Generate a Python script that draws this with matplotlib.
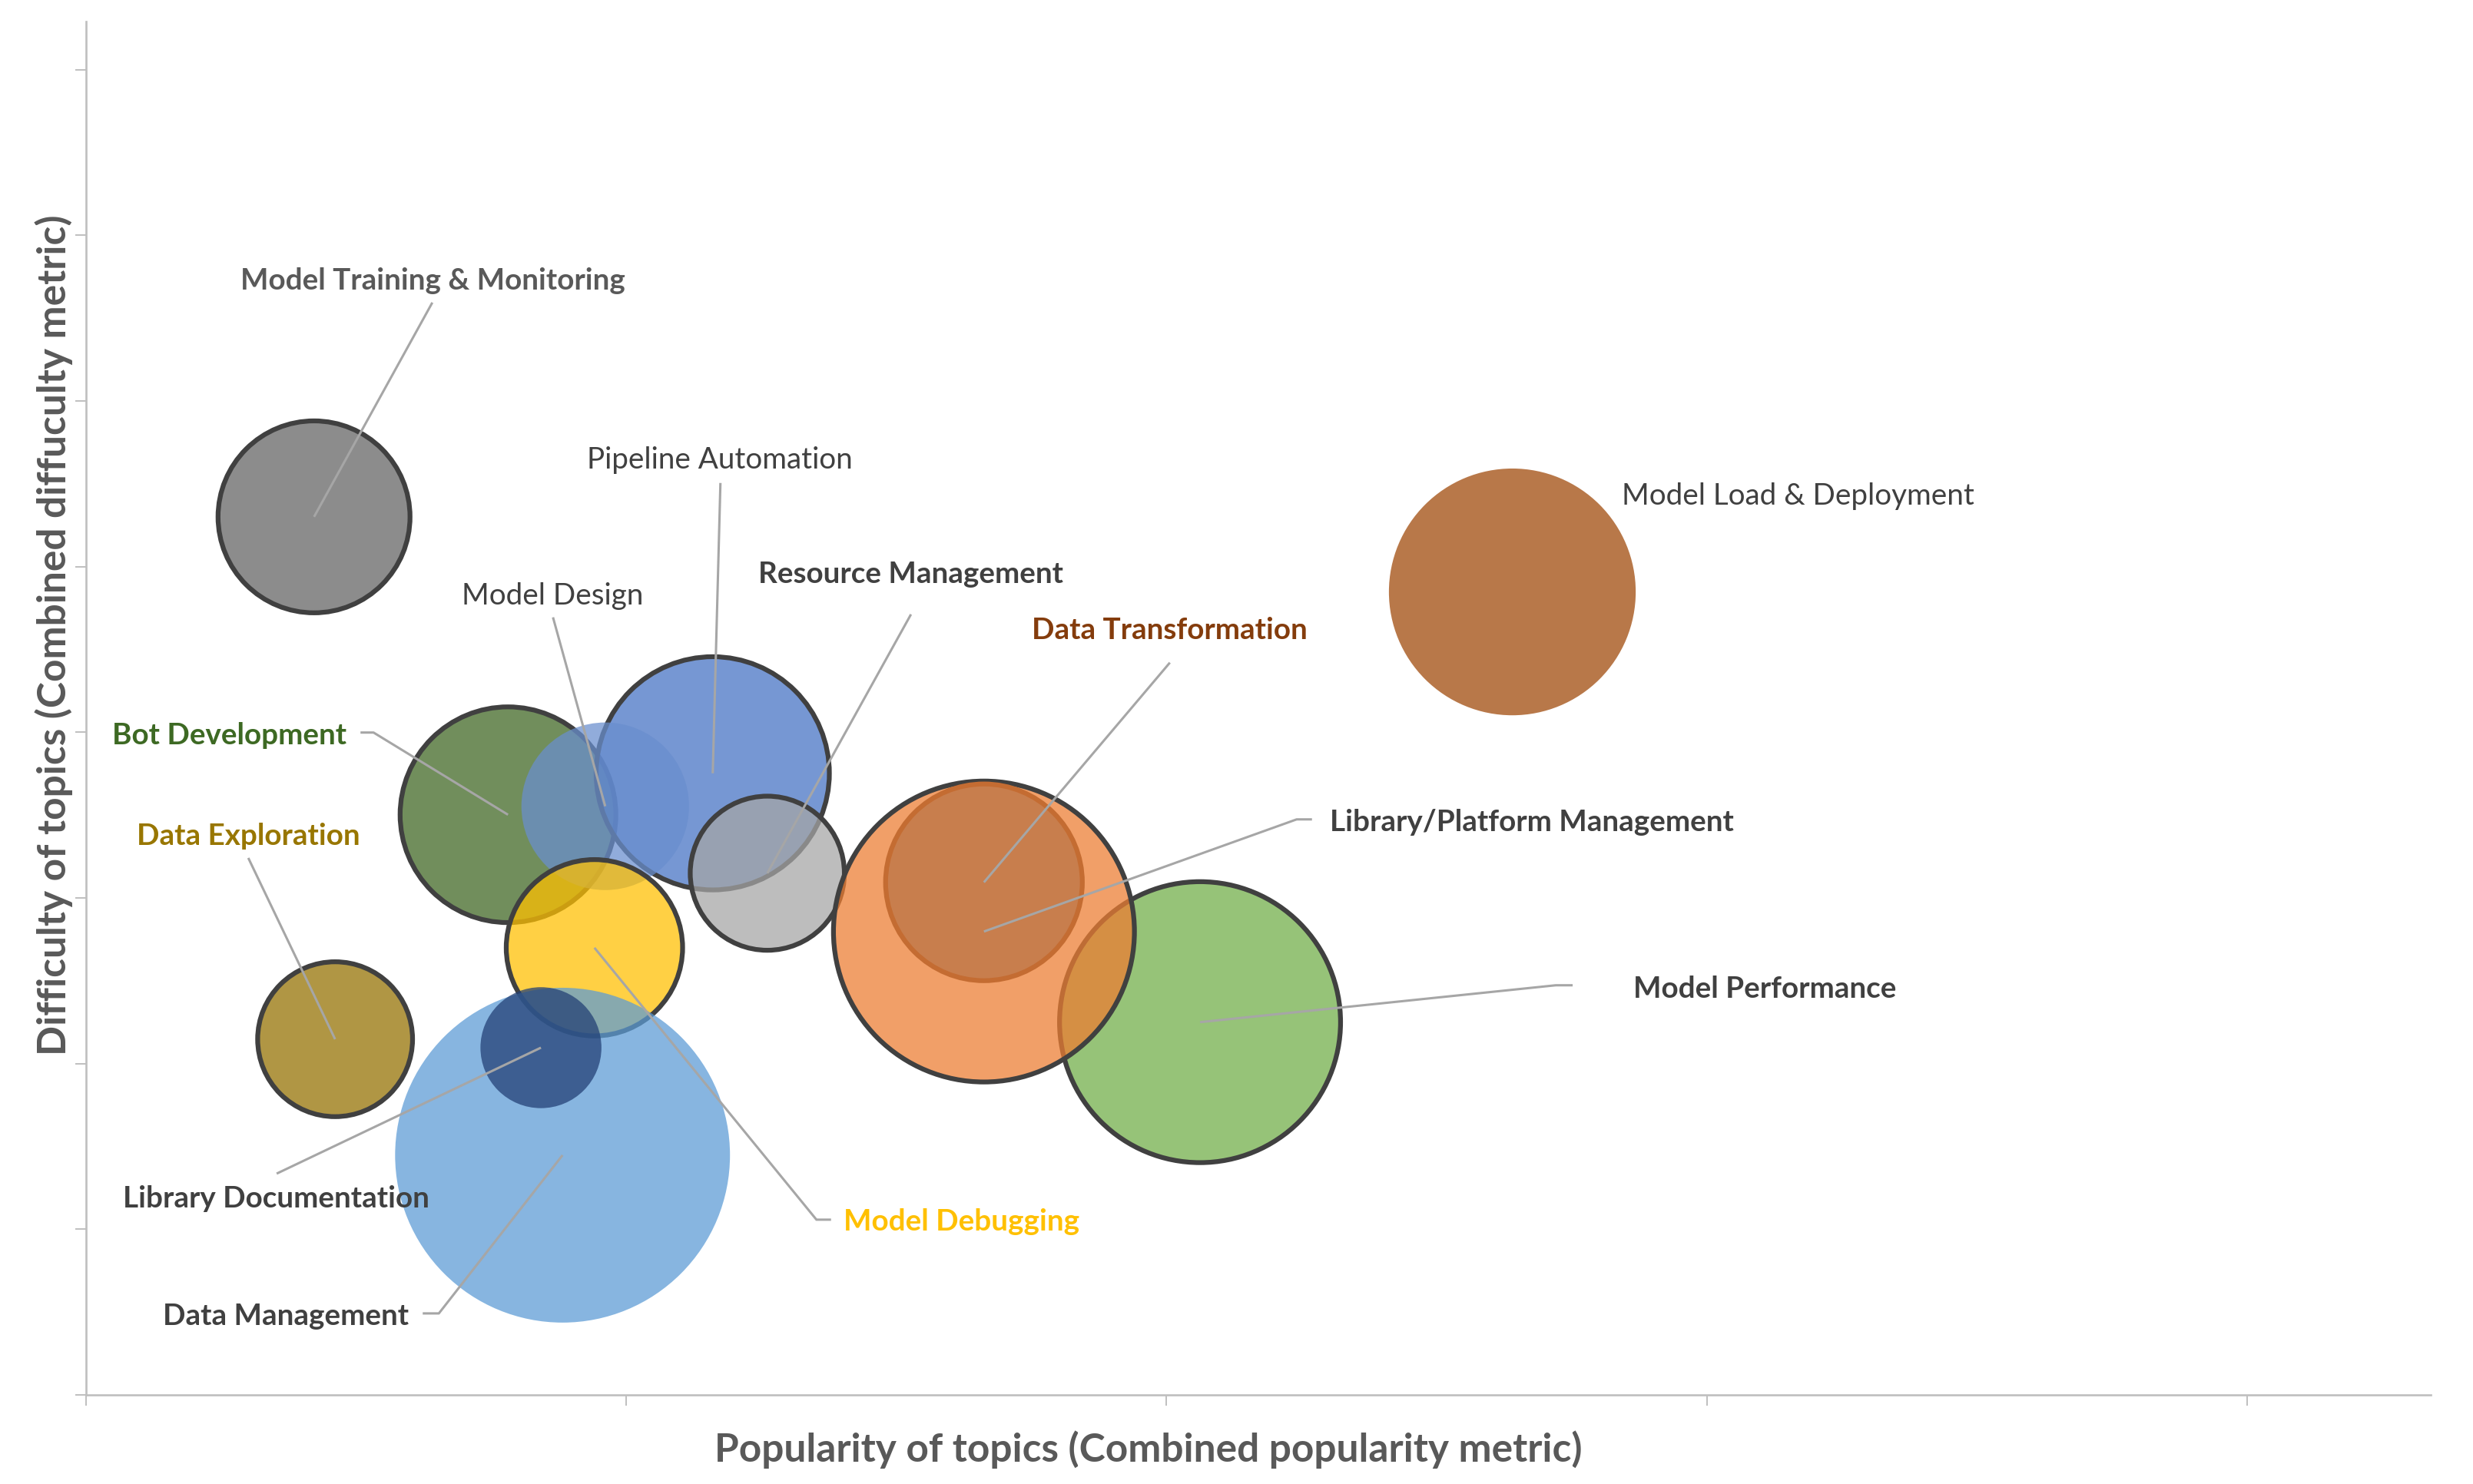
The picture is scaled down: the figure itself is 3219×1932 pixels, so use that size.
import matplotlib
matplotlib.use("Agg")
import matplotlib.pyplot as plt
import numpy as np
from matplotlib.colors import to_rgba

plt.rcParams['font.family'] = ['Lato', 'DejaVu Sans']

# ---------------- data (drawing order: bottom -> top) ----------------
topics = ["Model Training & Monitoring", "Model Load & Deployment", "Data Exploration",
          "Bot Development", "Pipeline Automation", "Model Design", "Resource Management",
          "Model Debugging", "Data Management", "Library Documentation",
          "Model Performance", "Library/Platform Management", "Data Transformation"]
popularity = [0.422, 2.640, 0.461, 0.781, 1.160, 0.961, 1.261,
              0.941, 0.882, 0.842, 2.062, 1.662, 1.662]
difficulty = [5.30, 4.847, 2.147, 3.502, 3.752, 3.553, 3.149,
              2.699, 1.447, 2.096, 2.250, 2.797, 3.094]
bubble_size = [164, 258, 108, 206, 240, 119, 107,
               139, 475, 62, 346, 396, 172]

x_ticks = [0, 1, 2, 3, 4]
y_ticks = [0, 1, 2, 3, 4, 5, 6, 7, 8]

# ---------------- styles ----------------
fill_base = ["#626262", "#9e4707", "#937000", "#3d6521", "#4472c4", "#698ece", "#a5a5a5",
             "#ffc000", "#5b9bd5", "#223f74", "#70ad47", "#ed7d31", "#b97244"]
edge_col = ["#404040", None, "#404040", "#404040", "#404040", None, "#404040",
            "#404040", None, None, "#404040", "#404040", "#c46c32"]
FILL_ALPHA = 0.733
EDGE_LW = 4.5  # points

label_style = {
    # name: (ha, bold, color, text offset px (dx, dy down), leader offsets px)
    "Model Training & Monitoring": ("center", True, "#595959", (155, -297), [(0, 0), (154, -279)]),
    "Pipeline Automation": ("center", False, "#404040", (9, -398), [(0, 0), (10, -378)]),
    "Model Design": ("center", False, "#404040", (-69, -264), [(0, 0), (-68, -246)]),
    "Resource Management": ("center", True, "#404040", (187, -379), [(0, 0), (187, -337)]),
    "Data Transformation": ("center", True, "#843c0c", (242, -318), [(0, 0), (242, -286)]),
    "Library/Platform Management": ("left", True, "#404040", (450, -132), [(0, 0), (407, -146), (427, -146)]),
    "Model Performance": ("left", True, "#404040", (564, -33), [(0, 0), (463, -48), (485, -48)]),
    "Model Load & Deployment": ("left", False, "#404040", (142, -115), None),
    "Bot Development": ("right", True, "#3d6923", (-210, -93), [(0, 0), (-175, -107), (-192, -107)]),
    "Data Exploration": ("center", True, "#987600", (-113, -254), [(0, 0), (-113, -236)]),
    "Library Documentation": ("center", True, "#404040", (-345, 207), [(0, 0), (-344, 164)]),
    "Data Management": ("right", True, "#404040", (-200, 220), [(0, 0), (-161, 206), (-182, 206)]),
    "Model Debugging": ("left", True, "#ffc000", (324, 367), [(0, 0), (289, 354), (308, 354)]),
}

W, H = 3219, 1933
DPI = 100
fig = plt.figure(figsize=(W / DPI, H / DPI), dpi=DPI)
fig.patch.set_facecolor("white")
ax = fig.add_axes([112 / W, 1 - 1817 / H, (3164 - 112) / W, (1817 - 29) / H])
ax.set_xlim(0, 4.34)
ax.set_ylim(0, 8.29)

for s in ["top", "right"]:
    ax.spines[s].set_visible(False)
for s in ["left", "bottom"]:
    ax.spines[s].set_color("#bfbfbf")
    ax.spines[s].set_linewidth(1.9)
ax.set_xticks(x_ticks)
ax.set_yticks(y_ticks)
ax.set_xticklabels([])
ax.set_yticklabels([])
ax.tick_params(axis="both", direction="out", length=10, width=1.4, color="#bfbfbf")

# bubble marker sizes (points^2): size value ~ area
px2pt = 72.0 / DPI
sizes = []
for b, e in zip(bubble_size, edge_col):
    r_px = np.sqrt(b * 100.0)
    d_pt = 2 * r_px * px2pt - (EDGE_LW if e else 0)
    sizes.append(d_pt ** 2)

faces = [to_rgba(c, FILL_ALPHA) for c in fill_base]
edges = [to_rgba(e) if e else (0, 0, 0, 0) for e in edge_col]
ax.scatter(popularity, difficulty, s=sizes, c=faces, edgecolors=edges,
           linewidths=[EDGE_LW if e else 0 for e in edge_col], zorder=2)

# labels and leader lines
inv = ax.transData.inverted()
for name, x, y in zip(topics, popularity, difficulty):
    ha, bold, col, (tdx, tdy), leader = label_style[name]
    cx, cy = ax.transData.transform((x, y))
    if leader:
        pts = np.array([(cx + dx, cy - dy) for dx, dy in leader])
        dpts = inv.transform(pts)
        ax.plot(dpts[:, 0], dpts[:, 1], color="#a6a6a6", lw=2.2, zorder=3,
                solid_capstyle="butt", clip_on=False)
    ax.annotate(name, xy=(x, y), xytext=(tdx, -tdy), textcoords="offset pixels",
                ha=ha, va="baseline", fontsize=27.8,
                fontweight="bold" if bold else "normal", color=col, zorder=4)

fig.text(1495 / W, 1 - 1903 / H, "Popularity of topics (Combined popularity metric)",
         ha="center", va="baseline", fontsize=37, fontweight="bold", color="#595959")
fig.text(70 / W, 1 - 827 / H, "Difficulty of topics (Combined diffuculty metric)",
         ha="center", va="center", rotation=90, fontsize=37, fontweight="bold", color="#595959")

fig.savefig("out.png", dpi=DPI, facecolor="white")
